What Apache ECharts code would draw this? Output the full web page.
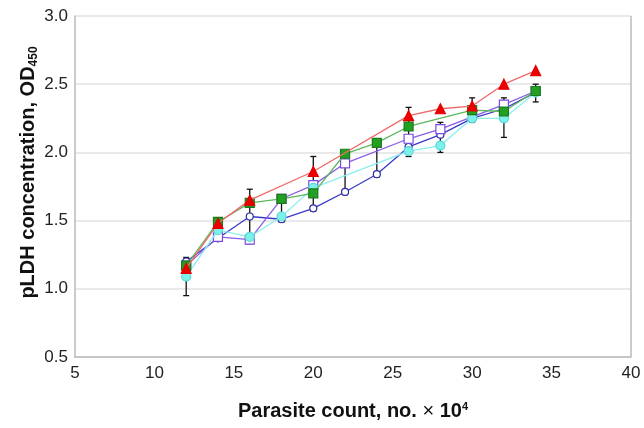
<!DOCTYPE html>
<html>
<head>
<meta charset="utf-8">
<script src="https://cdn.jsdelivr.net/npm/echarts@6/dist/echarts.min.js"></script>
<style>
  html, body { margin: 0; padding: 0; background: #fff; }
  #miGrafica { width: 644px; height: 428px; }
</style>
</head>
<body>
<div id="miGrafica"></div>
<script>
// datos: [recuento, OD450]
var rojo = [[12, 1.15], [14, 1.48], [16, 1.65], [20, 1.86], [26, 2.27], [28, 2.32], [30, 2.34], [32, 2.50], [34, 2.60]];
var verde = [[12, 1.17], [14, 1.49], [16, 1.63], [18, 1.66], [20, 1.70], [22, 1.99], [24, 2.07], [26, 2.19], [30, 2.31], [32, 2.30], [34, 2.45]];
var morado = [[12, 1.17], [14, 1.38], [16, 1.36], [18, 1.66], [20, 1.76], [22, 1.92], [26, 2.10], [28, 2.17], [32, 2.35], [34, 2.45]];
var azul = [[12, 1.20], [14, 1.37], [16, 1.53], [18, 1.51], [20, 1.59], [22, 1.71], [24, 1.84], [26, 2.04], [28, 2.13], [30, 2.25], [32, 2.32], [34, 2.44]];
var cian = [[12, 1.09], [14, 1.43], [16, 1.38], [18, 1.53], [20, 1.74], [26, 2.01], [28, 2.05], [30, 2.25], [32, 2.25], [34, 2.44]];

// barras de error: [x, minimo, maximo]
var errores = [
    [12, 0.95, 1.23], [14, 1.36, 1.52], [16, 1.33, 1.73], [18, 1.49, 1.69],
    [20, 1.57, 1.97], [22, 1.69, 2.01], [24, 1.82, 2.09], [26, 1.97, 2.33],
    [28, 2.00, 2.22], [30, 2.22, 2.40], [32, 2.11, 2.40], [34, 2.37, 2.50]
];

var ticksX = [5, 10, 15, 20, 25, 30, 35, 40];

var dom = document.getElementById('miGrafica');
var myChart = echarts.init(dom, null, { renderer: 'canvas' });

function linea(data, color, lineColor, symbol, size, fill, z) {
    return {
        type: 'line',
        data: data,
        symbol: symbol,
        symbolSize: size,
        z: z,
        lineStyle: { color: lineColor, width: 1.3 },
        itemStyle: { color: fill, borderColor: color, borderWidth: 1.2 },
        emphasis: { disabled: true },
        animation: false
    };
}

var option = {
    animation: false,
    grid: { left: 75, right: 13, top: 16, bottom: 71 },
    xAxis: {
        type: 'value',
        min: 5, max: 40, interval: 5,
        name: '{n|Parasite count, no.}{x| ×}{n| 10}{s|4}',
        nameLocation: 'middle',
        nameGap: 44,
        nameTextStyle: {
            rich: {
                n: { fontFamily: 'Liberation Sans', fontSize: 20, fontWeight: 'bold', color: '#111' },
                x: { fontFamily: 'Liberation Sans', fontSize: 20, color: '#111' },
                s: { fontFamily: 'Liberation Sans', fontSize: 11, fontWeight: 'bold', color: '#111', verticalAlign: 'bottom', padding: [0, 0, 9, 0] }
            }
        },
        axisLine: { lineStyle: { color: '#b8bcbf', width: 1.5 } },
        axisTick: { show: false },
        splitLine: { show: false },
        axisLabel: {
            fontFamily: 'Liberation Sans', fontSize: 17, color: '#222', margin: 8,
            customValues: ticksX
        }
    },
    yAxis: {
        type: 'value',
        min: 0.5, max: 3.0, interval: 0.5,
        name: '{n|pLDH concentration, OD}{s|450}',
        nameLocation: 'middle',
        nameGap: 35,
        nameMoveOverlap: false,
        nameTextStyle: {
            padding: [0, 0, 0, 28],
            rich: {
                n: { fontFamily: 'Liberation Sans', fontSize: 20, fontWeight: 'bold', color: '#111' },
                s: { fontFamily: 'Liberation Sans', fontSize: 12, fontWeight: 'bold', color: '#111', verticalAlign: 'top', padding: [11, 0, 0, 0] }
            }
        },
        axisLine: { show: true, lineStyle: { color: '#b8bcbf', width: 1.5 } },
        axisTick: { show: false },
        splitLine: { show: true, lineStyle: { color: '#e2e2e2', width: 1.5 } },
        axisLabel: {
            fontFamily: 'Liberation Sans', fontSize: 17, color: '#222', margin: 7,
            formatter: function (v) { return v.toFixed(1); }
        }
    },
    series: [
        {
            // borde derecho del area del grafico
            type: 'line',
            data: [[40, 0.5], [40, 3.0]],
            symbol: 'none',
            silent: true,
            lineStyle: { color: '#b8bcbf', width: 1.5 },
            z: 1
        },
        {
            type: 'custom',
            data: errores,
            z: 5,
            renderItem: function (params, api) {
                var x = api.value(0);
                var lo = api.coord([x, api.value(1)]);
                var hi = api.coord([x, api.value(2)]);
                var w = 3;
                var st = { stroke: '#111', lineWidth: 1.3 };
                return {
                    type: 'group',
                    children: [
                        { type: 'line', shape: { x1: lo[0], y1: lo[1], x2: hi[0], y2: hi[1] }, style: st },
                        { type: 'line', shape: { x1: lo[0] - w, y1: lo[1], x2: lo[0] + w, y2: lo[1] }, style: st },
                        { type: 'line', shape: { x1: hi[0] - w, y1: hi[1], x2: hi[0] + w, y2: hi[1] }, style: st }
                    ]
                };
            }
        },
        linea(azul, '#2a2aa8', '#3a3ac8', 'circle', 7, '#ffffff', 6),
        linea(morado, '#7a4ae0', '#8a5ce8', 'rect', 9, '#ffffff', 7),
        linea(cian, '#5ad8d8', '#8aeeee', 'circle', 9, '#7ef0ea', 8),
        linea(verde, '#1c7a1c', '#5cb85c', 'rect', 9, '#22a022', 9),
        linea(rojo, '#e00000', '#f06a6a', 'triangle', 10, '#ee0000', 10)
    ]
};

myChart.setOption(option);
window.addEventListener('resize', myChart.resize);
</script>
</body>
</html>
